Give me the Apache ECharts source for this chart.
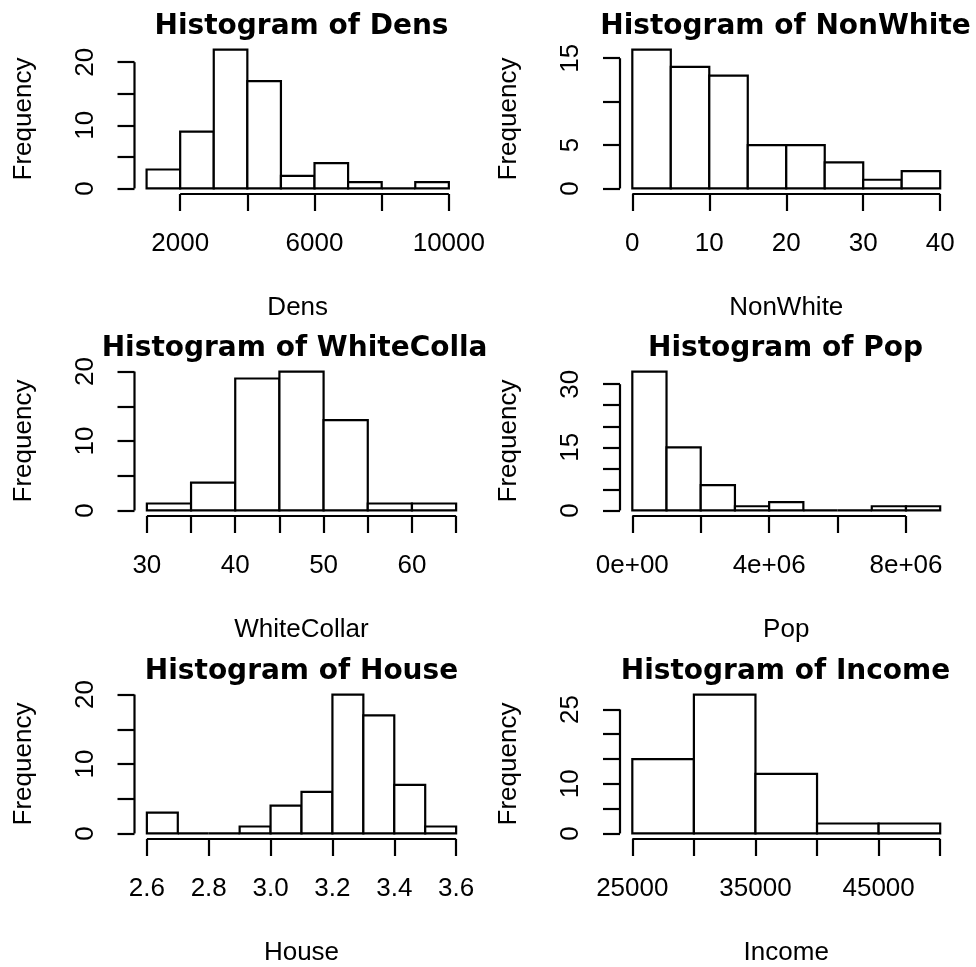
<!DOCTYPE html>
<html>
<head>
<meta charset="utf-8">
<script src="https://cdn.jsdelivr.net/npm/echarts@6/dist/echarts.min.js"></script>
<style>
body { margin: 0; background: #fff; }
#wrap { position: relative; width: 976px; height: 967px; background: #fff; }
.panel { position: absolute; width: 488px; height: 322px; }
</style>
</head>
<body>
<div id="wrap">
  <div class="panel" id="p1" style="left:0;top:0"></div>
  <div class="panel" id="p2" style="left:488px;top:0"></div>
  <div class="panel" id="p3" style="left:0;top:322px"></div>
  <div class="panel" id="p4" style="left:488px;top:322px"></div>
  <div class="panel" id="p5" style="left:0;top:645px"></div>
  <div class="panel" id="p6" style="left:488px;top:645px"></div>
</div>
<script>
// bin edges and counts
var densBreaks = [1000, 2000, 3000, 4000, 5000, 6000, 7000, 8000, 9000, 10000];
var densCounts = [3, 9, 22, 17, 2, 4, 1, 0, 1];
var densXTicks = [2000, 4000, 6000, 8000, 10000];
var densXLabels = [2000, 6000, 10000];
var densYTicks = [0, 5, 10, 15, 20];
var densYLabels = [0, 10, 20];

var nonWhiteBreaks = [0, 5, 10, 15, 20, 25, 30, 35, 40];
var nonWhiteCounts = [16, 14, 13, 5, 5, 3, 1, 2];
var nonWhiteXTicks = [0, 10, 20, 30, 40];
var nonWhiteXLabels = [0, 10, 20, 30, 40];
var nonWhiteYTicks = [0, 5, 10, 15];
var nonWhiteYLabels = [0, 5, 15];

var whiteCollarBreaks = [30, 35, 40, 45, 50, 55, 60, 65];
var whiteCollarCounts = [1, 4, 19, 20, 13, 1, 1];
var whiteCollarXTicks = [30, 35, 40, 45, 50, 55, 60, 65];
var whiteCollarXLabels = [30, 40, 50, 60];
var whiteCollarYTicks = [0, 5, 10, 15, 20];
var whiteCollarYLabels = [0, 10, 20];

var popBreaks = [0, 1e6, 2e6, 3e6, 4e6, 5e6, 6e6, 7e6, 8e6, 9e6];
var popCounts = [33, 15, 6, 1, 2, 0, 0, 1, 1];
var popXTicks = [0, 2e6, 4e6, 6e6, 8e6];
var popXLabels = [0, 4e6, 8e6];
var popYTicks = [0, 5, 10, 15, 20, 25, 30];
var popYLabels = [0, 15, 30];

var houseBreaks = [2.6, 2.7, 2.8, 2.9, 3.0, 3.1, 3.2, 3.3, 3.4, 3.5, 3.6];
var houseCounts = [3, 0, 0, 1, 4, 6, 20, 17, 7, 1];
var houseXTicks = [2.6, 2.8, 3.0, 3.2, 3.4, 3.6];
var houseXLabels = [2.6, 2.8, 3.0, 3.2, 3.4, 3.6];
var houseYTicks = [0, 5, 10, 15, 20];
var houseYLabels = [0, 10, 20];

var incomeBreaks = [25000, 30000, 35000, 40000, 45000, 50000];
var incomeCounts = [15, 28, 12, 2, 2];
var incomeXTicks = [25000, 30000, 35000, 40000, 45000, 50000];
var incomeXLabels = [25000, 35000, 45000];
var incomeYTicks = [0, 5, 10, 15, 20, 25];
var incomeYLabels = [0, 10, 25];

var FONT = "'Liberation Sans', Arial, Helvetica, sans-serif";
var LW = 2.2;

function sciLabel(v) {
    if (v === 0) return '0e+00';
    var e = Math.floor(Math.log10(v));
    var m = Math.round(v / Math.pow(10, e));
    return m + 'e+' + (e < 10 ? '0' + e : e);
}

function generateHist(domId, name, breaks, counts, xTicks, xLabels, yTicks, yLabels, gridLeft, fmt) {
    var myChart = echarts.init(document.getElementById(domId));
    var lo = breaks[0], hi = breaks[breaks.length - 1];
    var xpad = (hi - lo) * 0.04;
    var ymax = Math.max.apply(null, counts);
    var xmin = lo - xpad, xmax = hi + xpad;
    var ymin = -ymax * 0.04;
    var gridWidth = 334;
    var bins = [];
    for (var i = 0; i < counts.length; i++) {
        bins.push([breaks[i], breaks[i + 1], counts[i]]);
    }
    var option = {
        animation: false,
        title: {
            text: 'Histogram of ' + name,
            left: gridLeft + gridWidth / 2,
            textAlign: 'center',
            top: 13,
            padding: 0,
            textStyle: {
                fontFamily: "'DejaVu Sans', sans-serif",
                fontWeight: 'bold',
                fontSize: 28,
                color: '#000'
            }
        },
        grid: { left: gridLeft, top: 44, width: gridWidth, height: 150 },
        xAxis: {
            type: 'value',
            min: xmin,
            max: xmax,
            name: name,
            nameLocation: 'middle',
            nameGap: 101,
            nameTextStyle: { fontFamily: FONT, fontSize: 26, color: '#000' },
            axisLine: { show: false, onZero: false },
            axisTick: { show: true, customValues: xTicks, length: 17, lineStyle: { color: '#000', width: LW } },
            axisLabel: {
                customValues: xLabels,
                margin: 37,
                fontFamily: FONT,
                fontSize: 26,
                color: '#000',
                formatter: fmt || function (v) { return String(v); }
            },
            splitLine: { show: false }
        },
        yAxis: {
            type: 'value',
            min: ymin,
            max: ymax * 1.04,
            name: 'Frequency',
            nameLocation: 'middle',
            nameRotate: 90,
            nameGap: 98,
            nameTextStyle: { fontFamily: FONT, fontSize: 26, color: '#000' },
            axisLine: { show: false, onZero: false },
            axisTick: { show: true, customValues: yTicks, length: 17, lineStyle: { color: '#000', width: LW } },
            axisLabel: {
                customValues: yLabels,
                rotate: 90,
                margin: 36,
                fontFamily: FONT,
                fontSize: 26,
                color: '#000'
            },
            splitLine: { show: false }
        },
        series: [
            {
                type: 'custom',
                data: bins,
                encode: { x: [0, 1], y: 2 },
                renderItem: function (params, api) {
                    var p0 = api.coord([api.value(0), 0]);
                    var p1 = api.coord([api.value(1), api.value(2)]);
                    return {
                        type: 'rect',
                        shape: { x: p0[0], y: p1[1], width: p1[0] - p0[0], height: p0[1] - p1[1] },
                        style: { fill: '#fff', stroke: '#000', lineWidth: LW }
                    };
                }
            },
            {
                // R draws the x axis line only from first to last tick
                type: 'line',
                data: [[xTicks[0], ymin], [xTicks[xTicks.length - 1], ymin]],
                symbol: 'none',
                clip: false,
                silent: true,
                lineStyle: { color: '#000', width: LW }
            },
            {
                type: 'line',
                data: [[xmin, yTicks[0]], [xmin, yTicks[yTicks.length - 1]]],
                symbol: 'none',
                clip: false,
                silent: true,
                lineStyle: { color: '#000', width: LW }
            }
        ]
    };
    myChart.setOption(option);
}

generateHist('p1', 'Dens', densBreaks, densCounts, densXTicks, densXLabels, densYTicks, densYLabels, 134.5);
generateHist('p2', 'NonWhite', nonWhiteBreaks, nonWhiteCounts, nonWhiteXTicks, nonWhiteXLabels, nonWhiteYTicks, nonWhiteYLabels, 130.5);
generateHist('p3', 'WhiteCollar', whiteCollarBreaks, whiteCollarCounts, whiteCollarXTicks, whiteCollarXLabels, whiteCollarYTicks, whiteCollarYLabels, 134.5);
generateHist('p4', 'Pop', popBreaks, popCounts, popXTicks, popXLabels, popYTicks, popYLabels, 130.5, sciLabel);
generateHist('p5', 'House', houseBreaks, houseCounts, houseXTicks, houseXLabels, houseYTicks, houseYLabels, 134.5, function (v) { return v.toFixed(1); });
generateHist('p6', 'Income', incomeBreaks, incomeCounts, incomeXTicks, incomeXLabels, incomeYTicks, incomeYLabels, 130.5);
</script>
</body>
</html>
